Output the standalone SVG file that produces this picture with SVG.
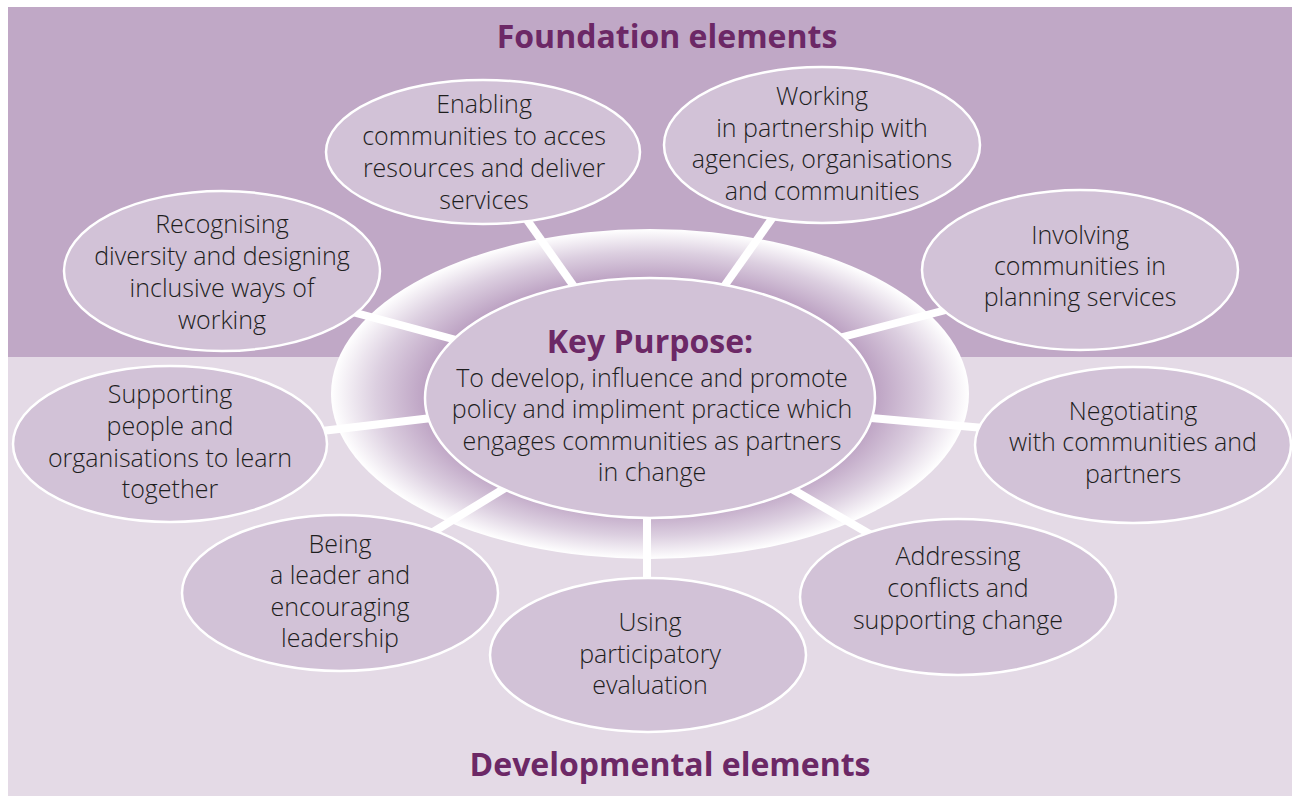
<svg xmlns="http://www.w3.org/2000/svg" width="1292" height="796" viewBox="0 0 1292 796">
<defs>
<radialGradient id="ringGrad" cx="0.5" cy="0.5" r="0.5">
<stop offset="0.66" stop-color="#b496bb"/>
<stop offset="0.86" stop-color="#dccfe0"/>
<stop offset="1" stop-color="#ffffff"/>
</radialGradient>
</defs>
<style>
.node ellipse{fill:#d2c2d7;stroke:#ffffff;stroke-width:2.5}
.lbl{font-family:"Open Sans","Noto Sans","Liberation Sans",sans-serif;font-size:25px;font-weight:300;fill:#1e1e1e;text-anchor:middle}
.title{font-family:"Open Sans","Noto Sans","Liberation Sans",sans-serif;font-size:32px;font-weight:bold;fill:#6c2866;text-anchor:middle}
.spoke{stroke:#ffffff;stroke-width:8;stroke-linecap:butt}
</style>
<rect x="8" y="7" width="1284" height="789" fill="#e4dae6"/>
<rect x="8" y="7" width="1284" height="350" fill="#c0a8c6"/>
<text class="title" x="667" y="48">Foundation elements</text>
<text class="title" x="670" y="776">Developmental elements</text>
<g id="ring">
<ellipse cx="650" cy="394" rx="319" ry="165" fill="url(#ringGrad)"/>
</g>
<g id="connectors">
<line class="spoke" x1="460" y1="341" x2="330" y2="306"/>
<line class="spoke" x1="580" y1="295" x2="520" y2="210"/>
<line class="spoke" x1="718" y1="295" x2="778" y2="210"/>
<line class="spoke" x1="835" y1="339" x2="965" y2="305"/>
<line class="spoke" x1="860" y1="417" x2="995" y2="429"/>
<line class="spoke" x1="785" y1="485" x2="880" y2="540"/>
<line class="spoke" x1="647" y1="505" x2="647" y2="595"/>
<line class="spoke" x1="510" y1="485" x2="420" y2="540"/>
<line class="spoke" x1="440" y1="417" x2="305" y2="433"/>
</g>
<g id="center" class="node">
<ellipse cx="650" cy="398" rx="225" ry="120"/>
<text class="title" x="650" y="353">Key Purpose:</text>
<text class="lbl" x="652" y="387">To develop, influence and promote</text>
<text class="lbl" x="652" y="418">policy and impliment practice which</text>
<text class="lbl" x="652" y="450">engages communities as partners</text>
<text class="lbl" x="652" y="481">in change</text>
</g>
<g id="n-recognising" class="node">
<ellipse cx="222" cy="271" rx="158" ry="80"/>
<text class="lbl" x="222" y="233">Recognising</text>
<text class="lbl" x="222" y="265">diversity and designing</text>
<text class="lbl" x="222" y="297">inclusive ways of</text>
<text class="lbl" x="222" y="329">working</text>
</g>
<g id="n-enabling" class="node">
<ellipse cx="483" cy="152" rx="157" ry="72"/>
<text class="lbl" x="484" y="113">Enabling</text>
<text class="lbl" x="484" y="145">communities to acces</text>
<text class="lbl" x="484" y="177">resources and deliver</text>
<text class="lbl" x="484" y="209">services</text>
</g>
<g id="n-working" class="node">
<ellipse cx="822" cy="145" rx="158" ry="78"/>
<text class="lbl" x="822" y="105">Working</text>
<text class="lbl" x="822" y="137">in partnership with</text>
<text class="lbl" x="822" y="168">agencies, organisations</text>
<text class="lbl" x="822" y="200">and communities</text>
</g>
<g id="n-involving" class="node">
<ellipse cx="1080" cy="270" rx="158" ry="80"/>
<text class="lbl" x="1080" y="244">Involving</text>
<text class="lbl" x="1080" y="275">communities in</text>
<text class="lbl" x="1080" y="306">planning services</text>
</g>
<g id="n-negotiating" class="node">
<ellipse cx="1133" cy="445" rx="158" ry="78"/>
<text class="lbl" x="1133" y="420">Negotiating</text>
<text class="lbl" x="1133" y="451">with communities and</text>
<text class="lbl" x="1133" y="483">partners</text>
</g>
<g id="n-addressing" class="node">
<ellipse cx="958" cy="597" rx="158" ry="78"/>
<text class="lbl" x="958" y="565">Addressing</text>
<text class="lbl" x="958" y="597">conflicts and</text>
<text class="lbl" x="958" y="629">supporting change</text>
</g>
<g id="n-using" class="node">
<ellipse cx="648" cy="655" rx="158" ry="77"/>
<text class="lbl" x="650" y="631">Using</text>
<text class="lbl" x="650" y="663">participatory</text>
<text class="lbl" x="650" y="694">evaluation</text>
</g>
<g id="n-being" class="node">
<ellipse cx="340" cy="593" rx="158" ry="78"/>
<text class="lbl" x="340" y="553">Being</text>
<text class="lbl" x="340" y="584">a leader and</text>
<text class="lbl" x="340" y="616">encouraging</text>
<text class="lbl" x="340" y="647">leadership</text>
</g>
<g id="n-supporting" class="node">
<ellipse cx="170" cy="444" rx="157" ry="78"/>
<text class="lbl" x="170" y="403">Supporting</text>
<text class="lbl" x="170" y="435">people and</text>
<text class="lbl" x="170" y="467">organisations to learn</text>
<text class="lbl" x="170" y="498">together</text>
</g>
</svg>
